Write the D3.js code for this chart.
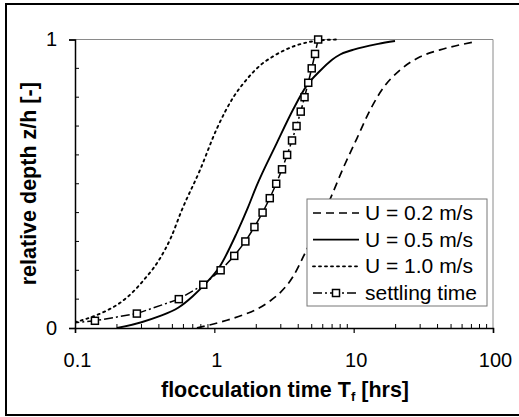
<!DOCTYPE html>
<html>
<head>
<meta charset="utf-8">
<script src="https://cdn.jsdelivr.net/npm/d3@7/dist/d3.min.js"></script>
<style>
  html, body { margin: 0; padding: 0; background: #fff; }
  svg { display: block; }
  text { font-family: "Liberation Sans", Arial, sans-serif; fill: #000; }
</style>
</head>
<body>
<svg id="chart" width="519" height="417"></svg>
<script>
// Flocculation time needed to reach relative depth z/h, for three flow velocities,
// compared with the plain settling time.
const u02Time  = [0.75, 1.23, 1.6, 2.02, 2.5, 2.96, 3.69, 4.35, 5.5, 6.96, 8.44, 10.5, 13.1, 16.3, 21.5, 30.0, 41.7, 72.3];
const u02Depth = [0.0, 0.027, 0.045, 0.065, 0.093, 0.122, 0.18, 0.247, 0.35, 0.46, 0.556, 0.655, 0.755, 0.832, 0.894, 0.940, 0.964, 0.991];

const u05Time  = [0.2, 0.3, 0.4, 0.55, 0.7, 0.85, 1.1, 1.45, 1.75, 2.0, 2.8, 3.7, 4.6, 5.7, 7.0, 8.0, 10.0, 15.0, 19.8];
const u05Depth = [0.0, 0.02, 0.04, 0.07, 0.11, 0.15, 0.215, 0.33, 0.42, 0.49, 0.64, 0.76, 0.84, 0.89, 0.93, 0.948, 0.965, 0.985, 0.995];

const u10Time  = [0.1, 0.135, 0.16, 0.2, 0.235, 0.31, 0.4, 0.49, 0.58, 0.79, 1.04, 1.37, 1.71, 2.13, 2.65, 3.9, 5.74, 7.6];
const u10Depth = [0.02, 0.04, 0.055, 0.08, 0.105, 0.165, 0.235, 0.315, 0.405, 0.548, 0.69, 0.80, 0.862, 0.91, 0.942, 0.98, 0.997, 1.0];

const settleTime  = [0.04, 0.139, 0.278, 0.556, 0.833, 1.11, 1.39, 1.67, 1.94, 2.22, 2.50, 2.78, 3.06, 3.33, 3.61, 3.89, 4.17, 4.44, 4.72, 5.00, 5.28, 5.56];
const settleDepth = [0.0, 0.025, 0.05, 0.10, 0.15, 0.20, 0.25, 0.30, 0.35, 0.40, 0.45, 0.50, 0.55, 0.60, 0.65, 0.70, 0.75, 0.80, 0.85, 0.90, 0.95, 1.0];

const xTickValues = [0.1, 1, 10, 100];
const xTickLabels = ["0.1", "1", "10", "100"];
const yTickValues = [0, 1];
const yTickLabels = ["0", "1"];

const legendLabels = ["U = 0.2 m/s", "U = 0.5 m/s", "U = 1.0 m/s", "settling time"];

const svg = d3.select("#chart");
const W = 519, H = 417;
const plot = { left: 75, right: 493, top: 39.5, bottom: 328 };

const x = d3.scaleLog().domain([0.1, 100]).range([plot.left, plot.right]);
const y = d3.scaleLinear().domain([0, 1]).range([plot.bottom, plot.top]);

// outer frame
svg.append("path")
  .attr("d", `M${W},4 L6,4 L6,415 L${W},415`)
  .attr("fill", "none").attr("stroke", "#000").attr("stroke-width", 2);

// plot area outline (top & right are light)
svg.append("path")
  .attr("d", `M${plot.left},${plot.top} L${plot.right},${plot.top} L${plot.right},${plot.bottom}`)
  .attr("fill", "none").attr("stroke", "#8a8a8a").attr("stroke-width", 1);

svg.append("clipPath").attr("id", "clip")
  .append("rect")
  .attr("x", plot.left).attr("y", plot.top - 6)
  .attr("width", plot.right - plot.left + 6).attr("height", plot.bottom - plot.top + 6);

// minor ticks: inward
const minorX = [];
for (let d = 0.1; d < 100; d *= 10) for (let k = 2; k <= 9; k++) minorX.push(d * k);
svg.append("g").selectAll("line").data(minorX).join("line")
  .attr("x1", d => x(d)).attr("x2", d => x(d))
  .attr("y1", plot.bottom).attr("y2", plot.bottom - 4)
  .attr("stroke", "#000").attr("stroke-width", 1);

const minorY = d3.range(1, 10).map(i => i / 10);
svg.append("g").selectAll("line").data(minorY).join("line")
  .attr("x1", plot.left).attr("x2", plot.left + 4)
  .attr("y1", d => y(d)).attr("y2", d => y(d))
  .attr("stroke", "#000").attr("stroke-width", 1);

// axes
const xAxis = d3.axisBottom(x).tickValues(xTickValues)
  .tickFormat((d, i) => xTickLabels[i]).tickSize(5).tickPadding(20);
const gx = svg.append("g").attr("transform", `translate(0,${plot.bottom})`).call(xAxis);
const yAxis = d3.axisLeft(y).tickValues(yTickValues)
  .tickFormat((d, i) => yTickLabels[i]).tickSize(6).tickPadding(12);
const gy = svg.append("g").attr("transform", `translate(${plot.left},0)`).call(yAxis);
[gx, gy].forEach(g => {
  g.select(".domain").attr("stroke", "#000").attr("stroke-width", 1.5);
  g.selectAll(".tick line").attr("stroke", "#000").attr("stroke-width", 1.2);
  g.selectAll(".tick text").attr("font-size", 20).attr("font-family", "Liberation Sans, Arial, sans-serif").attr("fill", "#000");
});
gx.selectAll(".tick text").attr("dx", 2);

// axis titles
svg.append("text")
  .attr("x", (plot.left + plot.right) / 2 + 1).attr("y", 397)
  .attr("text-anchor", "middle").attr("font-size", 21.5).attr("font-weight", "bold")
  .call(t => {
    t.append("tspan").text("flocculation time T");
    t.append("tspan").attr("font-size", 13).attr("dy", 4).text("f");
    t.append("tspan").attr("dy", -4).text(" [hrs]");
  });

svg.append("text")
  .attr("transform", `translate(36,${(plot.top + plot.bottom) / 2}) rotate(-90)`)
  .attr("text-anchor", "middle").attr("font-size", 21.5).attr("font-weight", "bold")
  .text("relative depth z/h [-]");

// series
const styles = [
  { dash: "8,5", width: 1.7 },
  { dash: null, width: 1.9 },
  { dash: "2,4", width: 1.9 },
  { dash: "9,3,2,3", width: 1.5 }
];
const series = [
  { t: u02Time, z: u02Depth, s: styles[0], curve: d3.curveMonotoneX },
  { t: u05Time, z: u05Depth, s: styles[1], curve: d3.curveMonotoneX },
  { t: u10Time, z: u10Depth, s: styles[2], curve: d3.curveMonotoneX },
  { t: settleTime, z: settleDepth, s: styles[3], curve: d3.curveLinear }
];

const gPlot = svg.append("g").attr("clip-path", "url(#clip)");
series.forEach(sr => {
  const pts = sr.t.map((t, i) => [t, sr.z[i]]);
  gPlot.append("path")
    .attr("d", d3.line().x(d => x(d[0])).y(d => y(d[1])).curve(sr.curve)(pts))
    .attr("fill", "none").attr("stroke", "#000")
    .attr("stroke-width", sr.s.width)
    .attr("stroke-linecap", sr.s.dash === "2,4" ? "round" : "butt")
    .attr("stroke-dasharray", sr.s.dash);
});

const mk = 7;
const settlePts = settleTime.map((t, i) => [t, settleDepth[i]]);
gPlot.append("g").selectAll("rect").data(settlePts).join("rect")
  .attr("x", d => x(d[0]) - mk / 2).attr("y", d => y(d[1]) - mk / 2)
  .attr("width", mk).attr("height", mk)
  .attr("fill", "#fff").attr("stroke", "#000").attr("stroke-width", 1.5);

// legend
const lg = { x: 307, y: 199, w: 180, h: 107 };
svg.append("rect")
  .attr("x", lg.x).attr("y", lg.y).attr("width", lg.w).attr("height", lg.h)
  .attr("fill", "#fff").attr("stroke", "#777").attr("stroke-width", 1);

const rowY = d3.scalePoint().domain(d3.range(legendLabels.length)).range([213, 293]);
legendLabels.forEach((lab, i) => {
  const yy = rowY(i);
  const s = styles[i];
  svg.append("line")
    .attr("x1", 313).attr("x2", 359).attr("y1", yy).attr("y2", yy)
    .attr("stroke", "#000").attr("stroke-width", s.width)
    .attr("stroke-linecap", s.dash === "2,4" ? "round" : "butt")
    .attr("stroke-dasharray", s.dash);
  if (i === 3) {
    svg.append("rect")
      .attr("x", 336 - mk / 2).attr("y", yy - mk / 2).attr("width", mk).attr("height", mk)
      .attr("fill", "#fff").attr("stroke", "#000").attr("stroke-width", 1.5);
  }
  svg.append("text")
    .attr("x", 365).attr("y", yy + 7)
    .attr("font-size", 21).text(lab);
});
</script>
</body>
</html>
